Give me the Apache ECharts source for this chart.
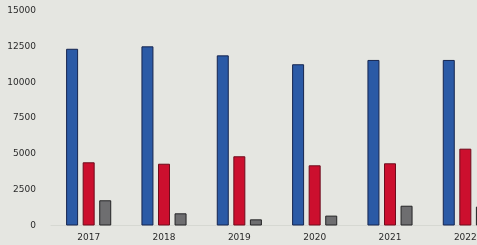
<!DOCTYPE html>
<html>
<head>
<meta charset="utf-8">
<script src="https://cdn.jsdelivr.net/npm/echarts@6/dist/echarts.min.js"></script>
<style>
  html, body { margin: 0; padding: 0; background: #e5e6e1; overflow: hidden; }
  #chart { width: 530px; height: 245px; }
</style>
</head>
<body>
<div id="chart"></div>
<script>
// data
var years = ['2017', '2018', '2019', '2020', '2021', '2022'];
var blueVals = [12330, 12500, 11870, 11250, 11550, 11550];
var redVals = [4410, 4310, 4830, 4200, 4340, 5360];
var grayVals = [1760, 850, 430, 690, 1380, 1320];

var chart = echarts.init(document.getElementById('chart'));

var barSeries = function (data, fill, edge) {
	return {
		type: 'bar',
		data: data,
		barWidth: 12,
		barGap: '38%',
		itemStyle: {
			color: fill,
			borderColor: edge,
			borderWidth: 1,
			borderRadius: 0
		}
	};
};

var option = {
	backgroundColor: '#e5e6e1',
	animation: false,
	grid: {
		left: 51,
		right: 27,
		top: 10.5,
		bottom: 19.5
	},
	xAxis: {
		type: 'category',
		data: years,
		axisTick: { show: false },
		axisLine: {
			lineStyle: { color: '#d6d8d2', width: 1 }
		},
		axisLabel: {
			margin: 8,
			color: '#2a2a2a',
			fontFamily: 'DejaVu Sans',
			fontSize: 9
		}
	},
	yAxis: {
		type: 'value',
		min: 0,
		max: 15000,
		interval: 2500,
		splitLine: { show: false },
		axisLine: { show: false },
		axisTick: { show: false },
		axisLabel: {
			margin: 15,
			color: '#2a2a2a',
			fontFamily: 'DejaVu Sans',
			fontSize: 9,
			formatter: function (v) { return String(v); }
		}
	},
	series: [
		barSeries(blueVals, '#2b5aa6', '#16254f'),
		barSeries(redVals, '#cc0f2e', '#6e0c1c'),
		barSeries(grayVals, '#6e6e70', '#242426')
	]
};

chart.setOption(option);
</script>
</body>
</html>
